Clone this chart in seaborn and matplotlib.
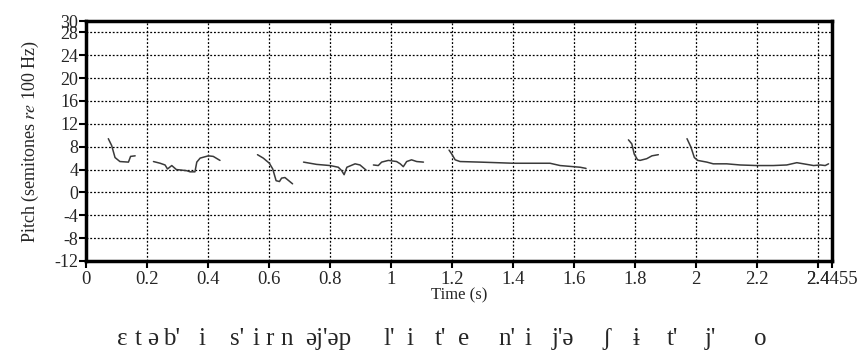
import numpy as np
import pandas as pd
import matplotlib
matplotlib.use('Agg')
import matplotlib.pyplot as plt
import matplotlib.transforms as mtransforms
import seaborn as sns

# pitch contour pieces (time in s, pitch in semitones re 100 Hz)
seg1_t = [0.073, 0.084, 0.095, 0.111, 0.139, 0.146, 0.161]
seg1_p = [9.4, 8.2, 6.1, 5.4, 5.3, 6.3, 6.4]
seg2_t = [0.221, 0.243, 0.259, 0.267, 0.281, 0.296, 0.330, 0.341, 0.357, 0.363, 0.374, 0.401, 0.417, 0.439]
seg2_p = [5.4, 5.1, 4.8, 4.1, 4.7, 4.0, 3.8, 3.6, 3.6, 5.3, 6.0, 6.4, 6.3, 5.6]
seg3_t = [0.562, 0.581, 0.601, 0.612, 0.623, 0.634, 0.641, 0.652, 0.677]
seg3_p = [6.6, 6.0, 5.1, 4.1, 2.05, 1.9, 2.5, 2.6, 1.5]
seg4_t = [0.713, 0.756, 0.800, 0.827, 0.838, 0.846, 0.855, 0.882, 0.898, 0.918]
seg4_p = [5.3, 4.9, 4.7, 4.4, 3.8, 3.1, 4.4, 5.0, 4.8, 3.9]
seg5_t = [0.942, 0.958, 0.969, 0.991, 1.018, 1.030, 1.040, 1.051, 1.067, 1.084, 1.106]
seg5_p = [4.8, 4.7, 5.3, 5.6, 5.4, 5.0, 4.5, 5.4, 5.7, 5.4, 5.3]
seg6_t = [1.190, 1.199, 1.210, 1.226, 1.292, 1.347, 1.401, 1.456, 1.521, 1.554, 1.598, 1.620, 1.639]
seg6_p = [7.4, 6.7, 5.7, 5.4, 5.3, 5.2, 5.1, 5.1, 5.1, 4.7, 4.5, 4.4, 4.2]
seg7_t = [1.778, 1.789, 1.797, 1.808, 1.816, 1.838, 1.855, 1.876]
seg7_p = [9.2, 8.5, 6.7, 5.7, 5.6, 5.9, 6.4, 6.6]
seg8_t = [1.970, 1.983, 1.994, 2.005, 2.035, 2.056, 2.100, 2.144, 2.199, 2.253, 2.297, 2.330, 2.363, 2.385, 2.407, 2.423, 2.434]
seg8_p = [9.4, 7.9, 6.1, 5.6, 5.3, 5.0, 5.0, 4.8, 4.7, 4.7, 4.8, 5.2, 4.9, 4.7, 4.8, 4.7, 5.0]

x_ticks = [0, 0.2, 0.4, 0.6, 0.8, 1, 1.2, 1.4, 1.6, 1.8, 2, 2.2, 2.4, 2.4455]
x_labels = ['0', '0.2', '0.4', '0.6', '0.8', '1', '1.2', '1.4', '1.6', '1.8', '2', '2.2', '2.4', '2.4455']
y_ticks = [-12, -8, -4, 0, 4, 8, 12, 16, 20, 24, 28, 30]

# transcription under the time axis
ipa_labels = ['ɛ', 't', 'ə', "b'", 'i', "s'", 'i', 'r', 'n', "əj'əp", "l'", 'i',
              "t'", 'e', "n'", 'i', "j'ə", 'ʃ', 'ɨ', "t'", "j'", 'o']
ipa_times = [0.118, 0.170, 0.220, 0.279, 0.380, 0.495, 0.557, 0.603, 0.656, 0.793, 0.993, 1.062,
             1.161, 1.239, 1.380, 1.449, 1.564, 1.705, 1.803, 1.921, 2.046, 2.210]

segs = [(seg1_t, seg1_p), (seg2_t, seg2_p), (seg3_t, seg3_p), (seg4_t, seg4_p),
        (seg5_t, seg5_p), (seg6_t, seg6_p), (seg7_t, seg7_p), (seg8_t, seg8_p)]
rows = []
for i, (t, p) in enumerate(segs):
    for a, b in zip(t, p):
        rows.append({'time': a, 'pitch': b, 'seg': i})
df = pd.DataFrame(rows)

sns.set_style('white')
plt.rcParams['font.family'] = ['Liberation Serif', 'DejaVu Serif']
plt.rcParams['mathtext.fontset'] = 'stix'

fig = plt.figure(figsize=(8.57, 3.56), dpi=100)
ax = fig.add_axes([0.1004, 0.267, 0.8705, 0.674])

sns.lineplot(data=df, x='time', y='pitch', units='seg', estimator=None, sort=False,
             color='#3a3a3a', linewidth=1.1, ax=ax)

ax.set_xlim(0, 2.4455)
ax.set_ylim(-12, 30)
ax.set_xticks(x_ticks)
ax.set_xticklabels(x_labels, fontsize=13.5)
ax.set_yticks(y_ticks)
ax.set_yticklabels([str(v) for v in y_ticks], fontsize=13)
ax.tick_params(axis='both', direction='out', length=5, width=1.5, color='black', pad=2,
               left=True, bottom=True)
ax.tick_params(axis='y', pad=0.5)
ax.grid(True, color='black', linestyle=(0, (1.5, 1.5)), linewidth=0.9)
for s in ax.spines.values():
    s.set_color('black')
    s.set_linewidth(2.5)

ax.set_xlabel('Time (s)', fontsize=12, labelpad=0)
ax.set_ylabel(r'Pitch (semitones $\it{re}$ 100 Hz)', fontsize=13, labelpad=10)

trans = mtransforms.blended_transform_factory(ax.transData, fig.transFigure)
for lab, t in zip(ipa_labels, ipa_times):
    ax.text(t, 0.03, lab, transform=trans, ha='center', va='baseline',
            fontsize=18, clip_on=False)

fig.savefig('out.png', dpi=100)
